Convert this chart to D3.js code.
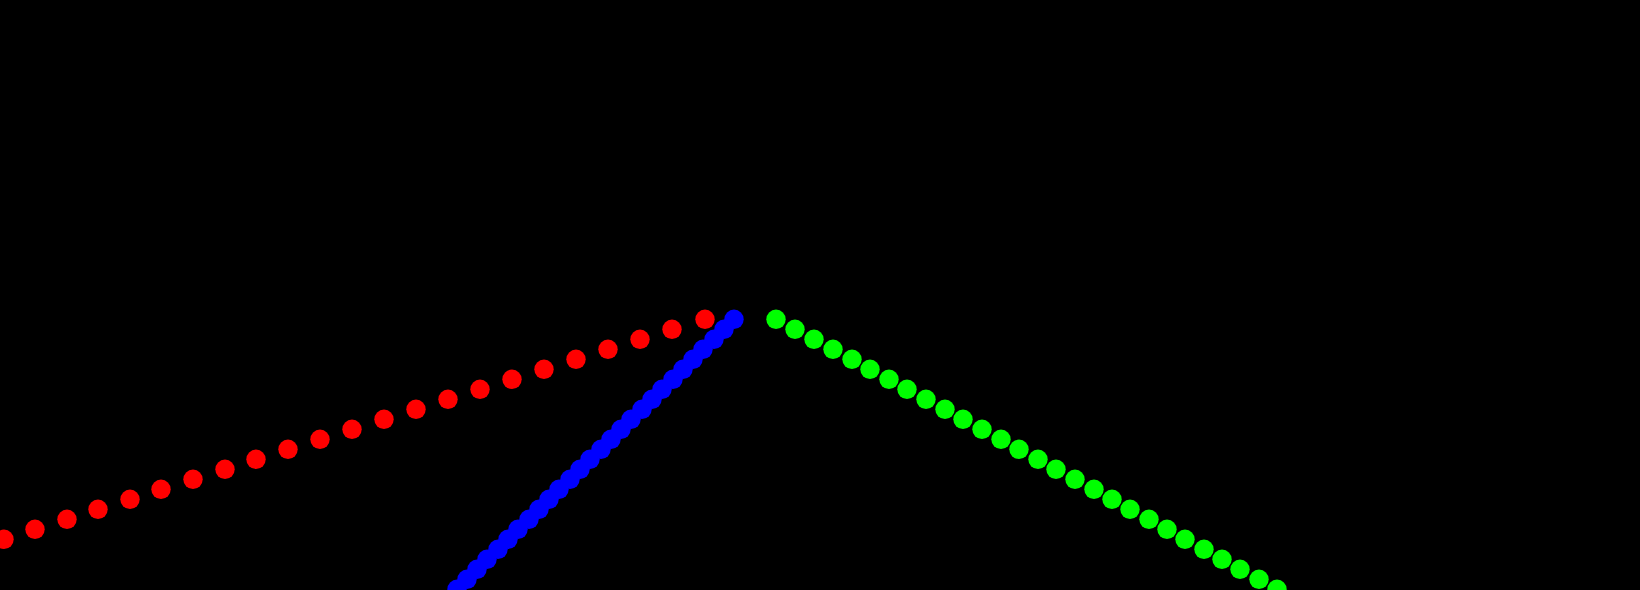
<!DOCTYPE html>
<html>
<head>
<meta charset="utf-8">
<script src="https://cdn.jsdelivr.net/npm/d3@7"></script>
<style>
  html, body { margin: 0; padding: 0; background: #000; overflow: hidden; }
  svg { display: block; }
</style>
</head>
<body>
<div id="chart"></div>
<script>
// series values (x in chart units, y = level)
var redX = [0.4, 3.5, 6.7, 9.8, 13.0, 16.1, 19.3, 22.5, 25.6, 28.8, 32.0, 35.2,
            38.4, 41.6, 44.8, 48.0, 51.2, 54.4, 57.6, 60.8, 64.0, 67.2, 70.5];
var redY = [5, 6, 7, 8, 9, 10, 11, 12, 13, 14, 15, 16,
            17, 18, 19, 20, 21, 22, 23, 24, 25, 26, 27];

var blueX = [73.4, 72.4, 71.4, 70.3, 69.3, 68.3, 67.3, 66.2, 65.2, 64.2, 63.1, 62.1, 61.1, 60.1,
             59.0, 58.0, 57.0, 55.9, 54.9, 53.9, 52.9, 51.8, 50.8, 49.8, 48.7, 47.7, 46.7, 45.7];
var blueY = [27, 26, 25, 24, 23, 22, 21, 20, 19, 18, 17, 16, 15, 14,
             13, 12, 11, 10, 9, 8, 7, 6, 5, 4, 3, 2, 1, 0];

var greenX = [77.6, 79.5, 81.4, 83.3, 85.2, 87.0, 88.9, 90.7, 92.6, 94.5, 96.3, 98.2, 100.1, 101.9,
              103.8, 105.6, 107.5, 109.4, 111.2, 113.0, 114.9, 116.7, 118.5, 120.4, 122.2, 124.0, 125.9, 127.7];
var greenY = [27, 26, 25, 24, 23, 22, 21, 20, 19, 18, 17, 16, 15, 14,
              13, 12, 11, 10, 9, 8, 7, 6, 5, 4, 3, 2, 1, 0];

var width = 1640, height = 590;

var svg = d3.select('#chart').append('svg')
  .attr('width', width)
  .attr('height', height);

svg.append('rect')
  .attr('width', width)
  .attr('height', height)
  .attr('fill', '#000');

// scales: no axes drawn in the reference, only the dots
var x = d3.scaleLinear().domain([0, 164]).range([0, width]);
var y = d3.scaleLinear().domain([0, 27]).range([589.3, 319.3]);

var series = [
  { name: 'red', color: '#ff0000', xs: redX, ys: redY },
  { name: 'blue', color: '#0000ff', xs: blueX, ys: blueY },
  { name: 'green', color: '#00ff00', xs: greenX, ys: greenY }
];

series.forEach(function(s) {
  var pts = s.xs.map(function(v, i) { return { x: v, y: s.ys[i] }; });
  svg.append('g')
    .attr('class', s.name)
    .selectAll('circle')
    .data(pts)
    .enter().append('circle')
    .attr('cx', function(d) { return x(d.x); })
    .attr('cy', function(d) { return y(d.y); })
    .attr('r', 9.7)
    .attr('fill', s.color);
});
</script>
</body>
</html>
